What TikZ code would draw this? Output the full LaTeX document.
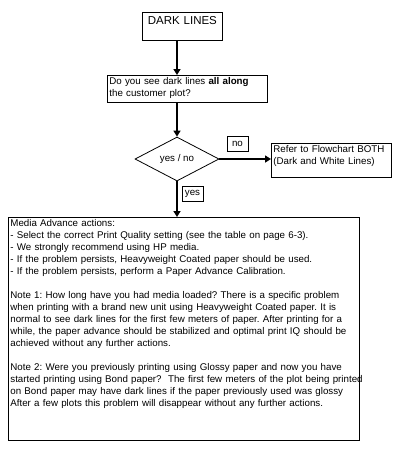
\documentclass[tikz,border=0pt]{standalone}
\usepackage{fontspec}
\setmainfont{Liberation Sans}
\frenchspacing
\usetikzlibrary{arrows.meta,shapes.geometric}
\begin{document}
\begin{tikzpicture}[x=1pt,y=-1pt,
  box/.style={draw,line width=0.8pt,inner sep=2pt,anchor=north west,align=left},
  flow/.style={line width=2pt,-{Triangle[width=7pt,length=6pt]}},
  txt/.style={font=\fontsize{9.75}{12}\selectfont},
  tag/.style={draw,line width=0.8pt,inner sep=0pt,minimum width=21pt,minimum height=15pt,txt}
]
\fill[white] (0,0) rectangle (401,451);
\useasboundingbox (0,0) rectangle (401,451);
% start box
\node[box,align=center,text width=76pt,text height=10.1pt,text depth=13.9pt,
      font=\fontsize{11.5}{13}\selectfont] (start) at (142,12) {DARK LINES};
% question box
\node[box,txt,text width=156pt,text height=7pt,text depth=16pt] (q) at (107,75)
  {Do you see dark lines \textbf{all along}\\the customer plot?};
% decision
\node[diamond,draw,line width=0.8pt,inner sep=0pt,aspect=1.9,minimum width=84pt,minimum height=44pt,txt] (dia) at (177,159) {yes / no};
% refer box
\node[box,txt,text width=116pt,text height=7pt,text depth=23pt] (refer) at (271,143)
  {Refer to Flowchart BOTH\\(Dark and White Lines)};
% labels
\node[tag] (no) at (237.5,143.5) {no};
\node[tag] (yes) at (192.5,193.5) {yes};
% media box
\node[box,txt,text width=347pt,text height=7pt,text depth=212pt] (media) at (8,217)
  {Media Advance actions:\\
  - Select the correct Print Quality setting (see the table on page 6-3).\\
  - We strongly recommend using HP media.\\
  - If the problem persists, Heavyweight Coated paper should be used.\\
  - If the problem persists, perform a Paper Advance Calibration.\\
  \mbox{}\\
  Note 1: How long have you had media loaded? There is a specific problem\\
  when printing with a brand new unit using Heavyweight Coated paper. It is\\
  \mbox{normal to see dark lines for the first few meters of paper. After printing for a}\\
  while, the paper advance should be stabilized and optimal print IQ should be\\
  achieved without any further actions.\\
  \mbox{}\\
  Note 2: Were you previously printing using Glossy paper and now you have\\
  \mbox{started printing using Bond paper?\ \ The first few meters of the plot being printed}\\
  on Bond paper may have dark lines if the paper previously used was glossy\\
  After a few plots this problem will disappear without any further actions.};
% connectors
\draw[flow] (start.south -| dia.north) -- (q.north -| dia.north);
\draw[flow] (q.south -| dia.north) -- (dia.north);
\draw[flow] (dia.east) -- (dia.east -| refer.west);
\draw[flow] (dia.south) -- (dia.south |- media.north);
\end{tikzpicture}
\end{document}
